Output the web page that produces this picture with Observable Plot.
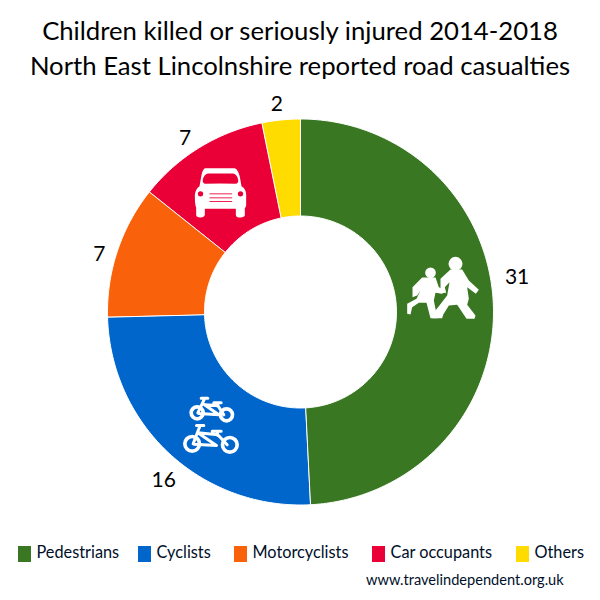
<!DOCTYPE html>
<html>
<head>
<meta charset="utf-8">
<script src="https://cdn.jsdelivr.net/npm/d3@7"></script>
<script src="https://cdn.jsdelivr.net/npm/@observablehq/plot@0.6"></script>
<style>
  html, body { margin: 0; padding: 0; background: #fff; }
  body { width: 600px; height: 600px; overflow: hidden; font-family: Lato, "Open Sans", sans-serif; color: #000; position: relative; }
  #title { height: 90px; box-sizing: border-box; padding-top: 13px; text-align: center; font-size: 25.7px; line-height: 35px; white-space: nowrap; }
  #chart svg { display: block; }
  #legend { position: absolute; left: 0; top: 530px; width: 600px; height: 70px; font-size: 16.3px; color: #00102a; }
  #legend .sw { position: absolute; top: 16px; width: 13px; height: 16px; }
  #legend .lb { position: absolute; top: 11px; line-height: 22px; white-space: nowrap; }
  #credit { position: absolute; left: 366px; top: 40px; font-size: 14.6px; line-height: 20px; white-space: nowrap; }
</style>
</head>
<body>
<div id="title">Children killed or seriously injured 2014-2018<br>North East Lincolnshire reported road casualties</div>
<div id="chart"></div>
<div id="legend"></div>
<script>
const categories = ["Pedestrians", "Cyclists", "Motorcyclists", "Car occupants", "Others"];
const casualties = [31, 16, 7, 7, 2];
const colors = ["#3A7722", "#0066CC", "#F9620A", "#EA0037", "#FFDC00"];

// presentation settings (not data)
const svgWidth = 600, svgHeight = 440;
const cx = 300.5, cy = 222, outerPx = 193, innerPx = 96;
const labelPlace = [[219, -7.9], [216.6, -3.5], [210, -2.4], [209.5, -2.2], [210, -0.9]];
const legendX = [[18, 36.5], [138, 156.5], [234, 252.5], [372, 390.5], [516, 534.5]];

const rad = d => d * Math.PI / 180;
const pie = d3.pie().sort(null)(casualties);
const inner = innerPx / outerPx;

const ring = [];
pie.forEach((p, i) => {
  const steps = Math.max(2, Math.ceil((p.endAngle - p.startAngle) / rad(1)));
  d3.range(steps + 1).forEach(s => {
    const a = p.startAngle + (p.endAngle - p.startAngle) * s / steps;
    ring.push({category: categories[i], x1: inner * Math.sin(a), y1: inner * Math.cos(a), x2: Math.sin(a), y2: Math.cos(a)});
  });
});

const labels = pie.map((p, i) => {
  const a = (p.startAngle + p.endAngle) / 2 + rad(labelPlace[i][1]);
  const r = labelPlace[i][0] / outerPx;
  return {value: casualties[i], x: r * Math.sin(a), y: r * Math.cos(a)};
});

const svgUri = (vb, body) => "data:image/svg+xml;utf8," + encodeURIComponent(
  `<svg xmlns="http://www.w3.org/2000/svg" viewBox="${vb}">${body}</svg>`);

const pedestrianIcon = svgUri("0 0 270 240", `<g fill="#fff">
  <circle cx="165" cy="55" r="21"/><circle cx="90" cy="82" r="16"/>
  <path d="M150 72L185 72L205 105L235 133L226 145L200 125L205 160L200 178L225 210L222 220L198 220L170 178L145 180L128 208L125 218L95 218L105 195L140 150L147 110L133 125L137 142L120 143L120 100Z"/>
  <path d="M65 96L105 96L115 125L135 135L125 145L105 142L100 165L105 190L112 218L90 218L78 172L55 172L35 185L30 207L20 205L20 175L48 160L60 135L50 150L36 155L36 125Z"/>
</g>`);

const bikeIcon = svgUri("0 0 210 225", `<g fill="none" stroke="#fff" stroke-width="11" stroke-linecap="round" stroke-linejoin="round">
  <circle cx="50" cy="82" r="18"/><circle cx="138" cy="88" r="18"/>
  <path stroke-width="9" d="M52 82L72 40M62 38H82M72 58L112 60L130 88M72 58L115 88L55 84M100 52H122M112 52L112 62"/>
  <circle cx="35" cy="175" r="22"/><circle cx="148" cy="178" r="22"/>
  <path stroke-width="9" d="M38 175L58 122M48 120H70M52 142L112 148L140 178M52 142L108 180L40 176M95 137H122M110 137L112 150"/>
</g>`);

const carIcon = svgUri("0 0 210 210", `<path fill="#fff" d="M58 38H148Q160 42 165 75L168 92Q182 100 182 118V150Q180 156 178 158V180Q175 186 160 186Q152 186 151 178V160H58V178Q56 186 45 186Q32 186 32 178V156Q28 150 28 118Q30 100 42 92L46 70Q50 42 58 38Z"/>
  <path fill="#EA0037" d="M52 72Q56 56 68 54H142Q154 56 158 72Q160 84 150 85L105 84L60 85Q50 84 52 72Z"/>
  <circle cx="45" cy="115" r="8" fill="#EA0037"/><circle cx="165" cy="115" r="8" fill="#EA0037"/>
  <path stroke="#EA0037" stroke-width="2.6" d="M72 115H140M72 127H140M72 138H140"/>`);

const icons = [
  {src: pedestrianIcon, x: 144.5 / outerPx, y: 27 / outerPx, w: 90, h: 80},
  {src: bikeIcon, x: -85.5 / outerPx, y: -110.5 / outerPx, w: 70, h: 75},
  {src: carIcon, x: -80.5 / outerPx, y: 122 / outerPx, w: 70, h: 70}
];

const chart = Plot.plot({
  width: svgWidth,
  height: svgHeight,
  margin: 0,
  x: {axis: null, domain: [-cx / outerPx, (svgWidth - cx) / outerPx], range: [0, svgWidth]},
  y: {axis: null, domain: [(cy - svgHeight) / outerPx, cy / outerPx], range: [svgHeight, 0]},
  color: {domain: categories, range: colors},
  marks: [
    Plot.area(ring, {x1: "x1", y1: "y1", x2: "x2", y2: "y2", z: "category", fill: "category", stroke: "#fff", strokeWidth: 1}),
    ...icons.map(d => Plot.image([d], {x: "x", y: "y", src: "src", width: d.w, height: d.h})),
    Plot.text(labels, {x: "x", y: "y", text: "value", fontSize: 21, fill: "#000", fontFamily: "Lato"})
  ]
});
document.getElementById("chart").append(chart);

const legend = d3.select("#legend");
categories.forEach((c, i) => {
  legend.append("div").attr("class", "sw").style("left", legendX[i][0] + "px").style("background", colors[i]);
  legend.append("div").attr("class", "lb").style("left", legendX[i][1] + "px").text(c);
});
legend.append("div").attr("id", "credit").text("www.travelindependent.org.uk");
</script>
</body>
</html>
